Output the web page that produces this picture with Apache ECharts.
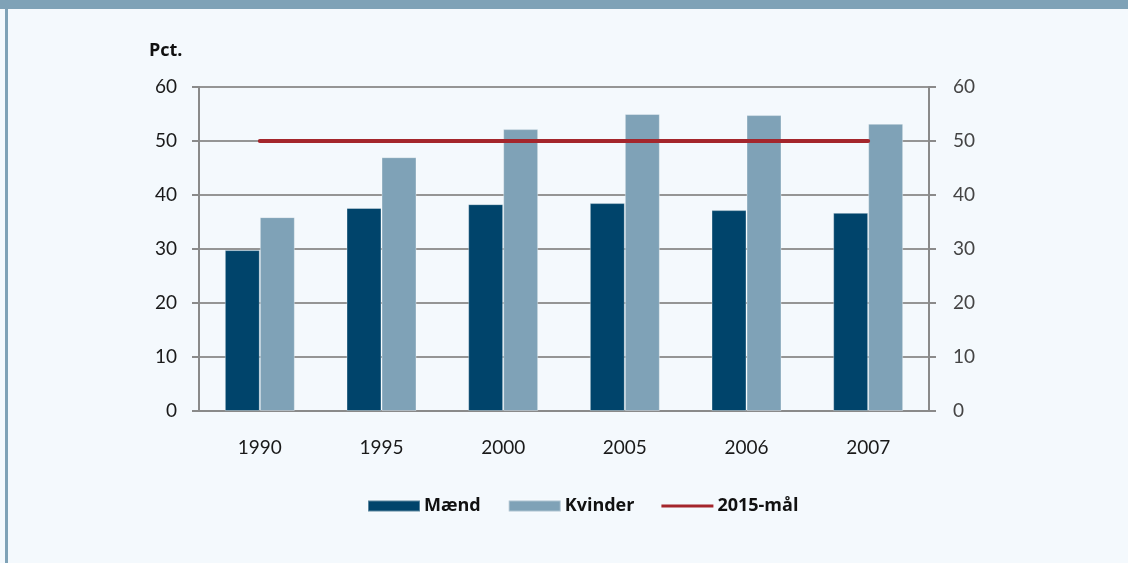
<!DOCTYPE html>
<html>
<head>
<meta charset="utf-8">
<script src="https://cdn.jsdelivr.net/npm/echarts@6/dist/echarts.min.js"></script>
<style>
  html, body { margin: 0; padding: 0; background: #f4f9fd; }
  #chart { width: 1128px; height: 563px; }
</style>
</head>
<body>
<div id="chart"></div>
<script>
// data
var years = ['1990', '1995', '2000', '2005', '2006', '2007'];
var maend = [29.8, 37.6, 38.3, 38.5, 37.2, 36.7];
var kvinder = [35.9, 47.0, 52.2, 55.0, 54.8, 53.2];
var maal = [50, 50, 50, 50, 50, 50];
var yTicks = [0, 10, 20, 30, 40, 50, 60];

var myChart = echarts.init(document.getElementById('chart'));

var axisFont = 'Lato, "Open Sans", sans-serif';

function yAxisCfg(pos) {
    return {
        type: 'value',
        position: pos,
        min: yTicks[0],
        max: yTicks[yTicks.length - 1],
        interval: 10,
        axisLine: { show: true, lineStyle: { color: '#8a8a8a', width: 2 } },
        axisTick: { show: true, length: 7, lineStyle: { color: '#8a8a8a', width: 2 } },
        axisLabel: {
            color: pos == 'left' ? '#1a1a1a' : '#444',
            fontSize: 19,
            fontFamily: axisFont,
            margin: pos == 'left' ? 22 : 24
        },
        splitLine: { show: pos == 'left', lineStyle: { color: '#959595', width: 2 } }
    };
}

var option = {
    backgroundColor: '#f4f9fd',
    animation: false,
    color: ['#00446b', '#7fa2b7', '#a4262c'],
    graphic: [
        { type: 'rect', shape: { x: 0, y: 0, width: 1128, height: 9 }, style: { fill: '#7fa2b7' } },
        { type: 'rect', shape: { x: 5, y: 0, width: 3, height: 563 }, style: { fill: '#7fa2b7' } },
        {
            type: 'text', left: 149, top: 42,
            style: { text: 'Pct.', fontSize: 18, fontWeight: 'bold', fontFamily: '"Open Sans", sans-serif', fill: '#111' }
        }
    ],
    legend: {
        bottom: 43,
        left: 362,
        itemWidth: 52,
        itemHeight: 11,
        itemGap: 27,
        textStyle: { color: '#111', fontSize: 18, fontWeight: 'bold', fontFamily: '"Open Sans", sans-serif', padding: [0, 0, 0, -1] },
        data: [
            { name: 'Mænd', icon: 'rect' },
            { name: 'Kvinder', icon: 'rect' },
            { name: '2015-mål', icon: 'path://M0,0 L52,0 L52,3 L0,3 Z', itemStyle: { color: '#a4262c' } }
        ]
    },
    grid: { left: 199, right: 199, top: 87, bottom: 152 },
    xAxis: {
        type: 'category',
        data: years,
        axisLine: { lineStyle: { color: '#8a8a8a', width: 2 } },
        axisTick: { show: false },
        axisLabel: { color: '#1a1a1a', fontSize: 19, fontFamily: axisFont, margin: 27 }
    },
    yAxis: [yAxisCfg('left'), yAxisCfg('right')],
    series: [
        {
            name: 'Mænd', type: 'bar', barWidth: 35, barGap: '0%',
            itemStyle: { borderColor: 'rgba(255,255,255,0.35)', borderWidth: 1 },
            data: maend
        },
        {
            name: 'Kvinder', type: 'bar', barWidth: 35, barGap: '0%',
            itemStyle: { borderColor: 'rgba(255,255,255,0.35)', borderWidth: 1 },
            data: kvinder
        },
        {
            name: '2015-mål', type: 'line', data: maal,
            symbol: 'none', z: 5,
            lineStyle: { width: 4, color: '#a4262c', cap: 'round' }
        }
    ]
};

myChart.setOption(option);
</script>
</body>
</html>
